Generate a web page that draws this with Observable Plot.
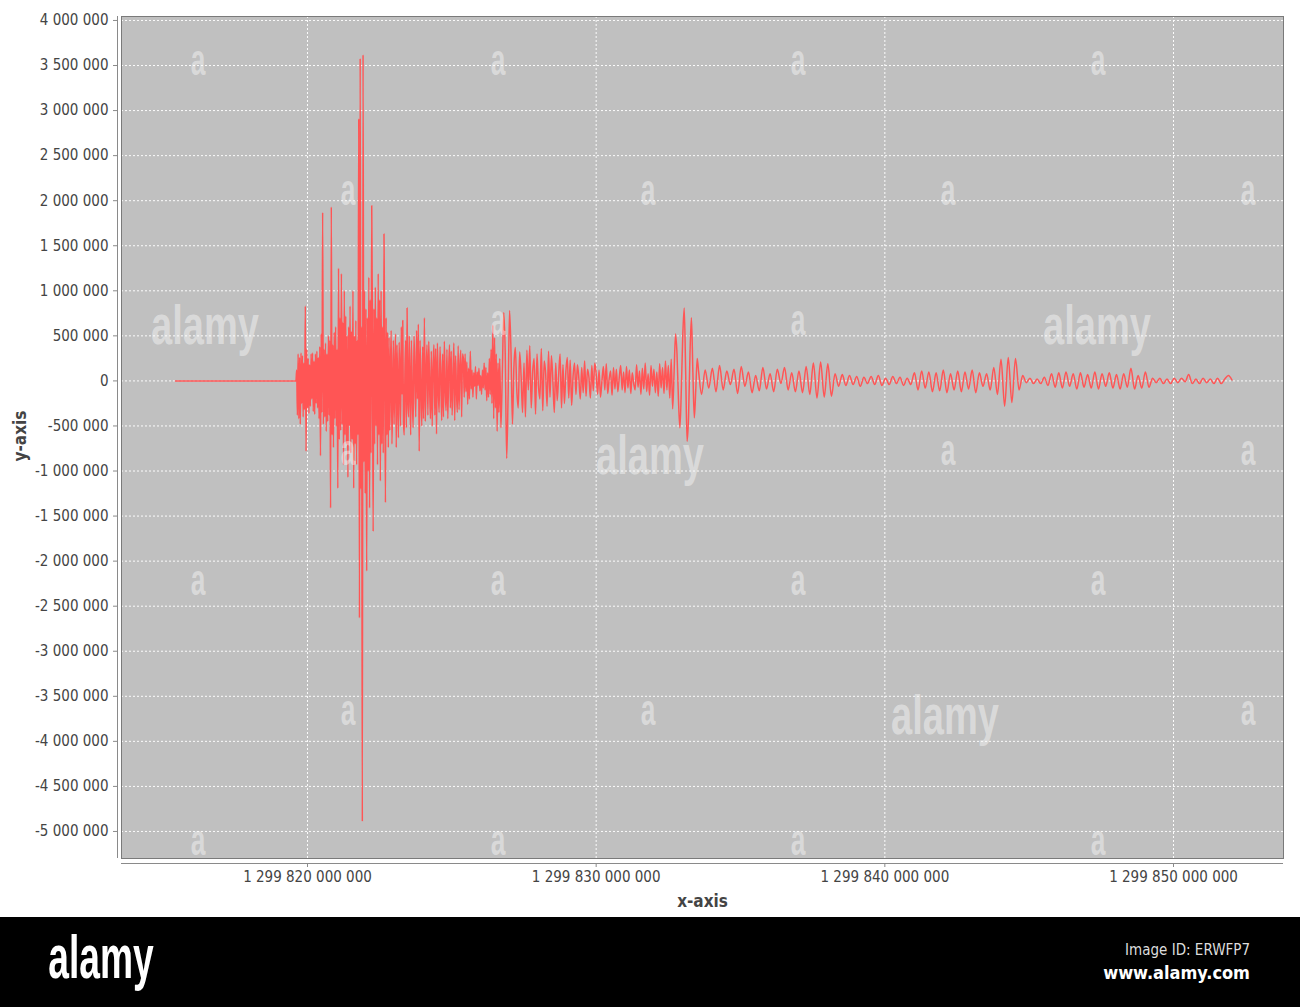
<!DOCTYPE html>
<html>
<head>
<meta charset="utf-8">
<script src="https://cdn.jsdelivr.net/npm/d3@7"></script>
<script src="https://cdn.jsdelivr.net/npm/@observablehq/plot@0.6"></script>
<style>
  body { margin: 0; background: #fff; }
  #wrap { position: relative; width: 1300px; height: 1007px; overflow: hidden; font-family: "DejaVu Sans Condensed", "Liberation Sans", sans-serif; }
  #chart svg { display: block; }
  .wm { position: absolute; color: rgba(255,255,255,0.42); font-family: "Liberation Sans Narrow", "Liberation Sans", sans-serif; font-weight: bold; pointer-events: none; transform-origin: center; white-space: nowrap; line-height: 1; }
  .big { font-size: 56px; transform: translate(-50%, -50%) scaleX(0.68); }
  .sm { font-size: 44px; transform: translate(-50%, -62%) scaleX(0.6); }
  #band { position: absolute; left: 0; top: 917px; width: 1300px; height: 90px; background: #000; }
  #logo { position: absolute; left: 101px; top: 45px; color: #fff; font-family: "Liberation Sans Narrow", "Liberation Sans", sans-serif; font-weight: bold; font-size: 62px; transform: translate(-50%, -58%) scaleX(0.6); line-height: 1; }
  #imgid { position: absolute; right: 50px; top: 24px; color: #ddd; font-size: 15px; }
  #site { position: absolute; right: 50px; top: 45px; color: #fff; font-size: 18px; font-weight: bold; }
</style>
</head>
<body>
<div id="wrap">
  <div id="chart"></div>
  <div id="marks"></div>
  <div id="band">
    <div id="logo">alamy</div>
    <div id="imgid">Image ID: ERWFP7</div>
    <div id="site">www.alamy.com</div>
  </div>
</div>
<script>
// ---- data (time offsets in seconds from 1 299 810 000 s; amplitudes in thousands) ----
const baseSeconds = 1299810000;

const flatTimes = [5428, 7000, 8500];
const flatValues = [0, 0, 0];

const seg1Start = 9600, seg1Step = 25;
const seg1Values = [0,120,-380,300,-420,260,-480,310,-250,280,
 -400,200,-320,830,-780,350,-300,250,-360,180,
 -280,300,-200,310,-340,220,-370,300,-250,330,
 -300,260,-420,380,-830,520,-350,1870,-480,350,
 -400,420,-560,300,-450,500,-380,450,-1410,1930,
 -600,400,-740,540,-420,600,-500,350,-1190,1250,
 -650,700,-550,1190,-480,650,-930,1000,-600,720,
 -700,500,-1070,600,-500,830,-800,550,-650,1000,
 -1190,500,-700,670,-930,450,-600,2910,-2630,3580,
 -1200,600,-4890,3620,-900,1000,-1250,800,-2110,700,
 -1000,1150,-1410,900,-800,1945,500,-1670,800,-700,
 1040,-500,700,-930,1190,-600,900,-1110,1000,-700,
 600,-800,1630,400,-1350,700,-600,540,-740,480,
 -550,150,560,-700,-200,450,-480,100,520,-740,
 400,-100,-630,430,50,-500,600,-150,670,-450,
 -600,100,450,-520,810,-200,-400,500,-100,-600];

const seg2Start = 13600, seg2Step = 30;
const seg2Values = [450,-150,-520,500,100,-400,560,-200,630,-780,
 450,-100,-500,380,-420,700,-450,100,400,-380,
 440,-50,-420,330,-500,150,400,-380,360,-590,
 420,-100,-350,380,50,-440,300,-400,440,-100,
 -330,350,-420,100,400,-300,330,-380,0,420,
 -440,280,-100,-350,390,-320,150,340,-400,300,
 250,-180,300,-120,210,-260,140,-200,330,-90,
 120,-180,90,-60,160,-200,100,-50,140,-110,
 60,-150,120,-80,200,-100,150,-220,90,-180,
 250,-150,350,-250,620,-420,480,-300,300,-560,
 200,-350,250];

const seg3Start = 16700, seg3Step = 50;
const seg3Values = [-520,100,760,300,-860,-150,780,320,-480,
 150,370,-100,-300,320,50,-350,200,-400,340,
 -100,390,-300,100,250,-370,300,-50,-200,360,
 -330,220,80,-280,330,-180,280,0,-350,200,
 -220,60,300,-300,180,-250,100,260,-190,230,
 -270,50,200,-150,180,30,-200,150,-130,220,
 -170,130,40,-190,170,-110,200,80,-150,120,
 -180,0,160,-100,190,-140,20,110,-160,150,
 -90,130,-120,40,170,-100,100,-130,160,-80,
 120,-140,90,-30,-100,180,-70,110,-150,140,
 -90,200,-120,80,-160,170,-60,130,-130,100,
 -170,190,-80,150,-140,220,-100,170,-190,240,
 -310,100,520,300,-200,-520,-100,500,810,100,
 -670,-400,300,700,100,-410,-100,250,100];

const seg4Start = 23650, seg4Step = 125;
const seg4Values = [-150,120,-80,140,-120,170,-100,110,-40,130,
 -140,160,-60,100,-130,60,-110,150,-90,80,
 -120,130,-30,150,-100,90,-120,110,-130,160,
 -150,200,-190,210,-180,190,-170,80,-60,70,
 -50,60,-40,50,-60,40,-30,50,-40,60,
 -50,30,-40,50,-30,40,-50,30,-40,90,
 -100,110,-80,100,-120,90,-110,120,-130,80,
 -100,110,-120,100,-90,120,-130,90,-60,80,
 -100,150,-150,240,-280,260,-240,250,-100,60,
 -20,30,-30,20,-30,40,-50,80,-70,90,
 -80,100,-60,80,-90,90,-70,70,-80,100,
 -90,80,-60,90,-80,70,-90,80,-70,140,
 -90,60,-80,100,-70,30,-20,30,-30,20,
 -30,30,-20,30,-10,70,-30,20,-30,30,
 -20,20,-30,30,-30,20,60,10];

const xTicks = [1299820000000, 1299830000000, 1299840000000, 1299850000000];
const yTicks = [-5000000,-4500000,-4000000,-3500000,-3000000,-2500000,-2000000,-1500000,-1000000,-500000,
  0,500000,1000000,1500000,2000000,2500000,3000000,3500000,4000000];
const xDomain = [1299813557000, 1299853810000];
const yDomain = [-5300000, 4044000];

// ---- build table ----
const data = [];
flatTimes.forEach((t, i) => data.push({x: (baseSeconds + t) * 1000, y: flatValues[i] * 1000}));
function addSeg(start, step, vals) {
  vals.forEach((v, i) => data.push({x: (baseSeconds + start + i * step) * 1000, y: v * 1000}));
}
addSeg(seg1Start, seg1Step, seg1Values);
addSeg(seg2Start, seg2Step, seg2Values);
addSeg(seg3Start, seg3Step, seg3Values);
addSeg(seg4Start, seg4Step, seg4Values);

const fmt = d3.formatLocale({decimal: ".", thousands: " ", grouping: [3], currency: ["", ""], minus: "-"}).format(",d");

const chart = Plot.plot({
  width: 1300,
  height: 917,
  marginLeft: 121,
  marginRight: 17,
  marginTop: 16,
  marginBottom: 59,
  style: {background: "#fff", fontFamily: "'DejaVu Sans Condensed', 'Liberation Sans', sans-serif", fontSize: "15px", color: "#444"},
  x: {domain: xDomain, label: null},
  y: {domain: yDomain, label: null},
  marks: [
    Plot.frame({fill: "#c0c0c0", stroke: null}),
    Plot.gridX(xTicks, {stroke: "#fff", strokeOpacity: 0.95, strokeDasharray: "2,2", strokeWidth: 1}),
    Plot.gridY(yTicks, {stroke: "#fff", strokeOpacity: 0.95, strokeDasharray: "2,2", strokeWidth: 1}),
    Plot.line(data, {x: "x", y: "y", stroke: "#ff5555", strokeWidth: 1.5, curve: "monotone-x"}),
    Plot.frame({stroke: "#7a7a7a", strokeWidth: 1}),
    Plot.ruleX([xDomain[0]], {dx: -4, stroke: "#8a8a8a"}),
    Plot.ruleY([yDomain[0]], {dy: 5, stroke: "#8a8a8a"}),
    Plot.axisY(yTicks, {tickFormat: fmt, tickSize: 4, tickPadding: 5, dx: -4, stroke: "#8a8a8a", label: null}),
    Plot.axisX(xTicks, {tickFormat: fmt, tickSize: 4, tickPadding: 4, dy: 5, stroke: "#8a8a8a", label: null}),
    Plot.text(["x-axis"], {frameAnchor: "bottom", dy: 43, lineAnchor: "middle", fontWeight: "bold", fontSize: 17, fill: "#444"}),
    Plot.text(["y-axis"], {frameAnchor: "left", dx: -101, dy: 24, rotate: -90, lineAnchor: "middle", fontWeight: "bold", fontSize: 17, fill: "#444"})
  ]
});
document.getElementById("chart").appendChild(chart);

// ---- watermark overlay ----
const wmBig = [[205, 325], [1097, 325], [650, 455], [945, 715]];
const wmSmall = [[198,65],[498,65],[798,65],[1098,65],
  [348,195],[648,195],[948,195],[1248,195],
  [498,325],[798,325],
  [348,455],[948,455],[1248,455],
  [198,585],[498,585],[798,585],[1098,585],
  [348,715],[648,715],[1248,715],
  [198,845],[498,845],[798,845],[1098,845]];
const layer = document.getElementById("marks");
wmBig.forEach(([l, t]) => { const d = document.createElement("div"); d.className = "wm big"; d.style.left = l + "px"; d.style.top = t + "px"; d.textContent = "alamy"; layer.appendChild(d); });
wmSmall.forEach(([l, t]) => { const d = document.createElement("div"); d.className = "wm sm"; d.style.left = l + "px"; d.style.top = t + "px"; d.textContent = "a"; layer.appendChild(d); });
</script>
</body>
</html>
